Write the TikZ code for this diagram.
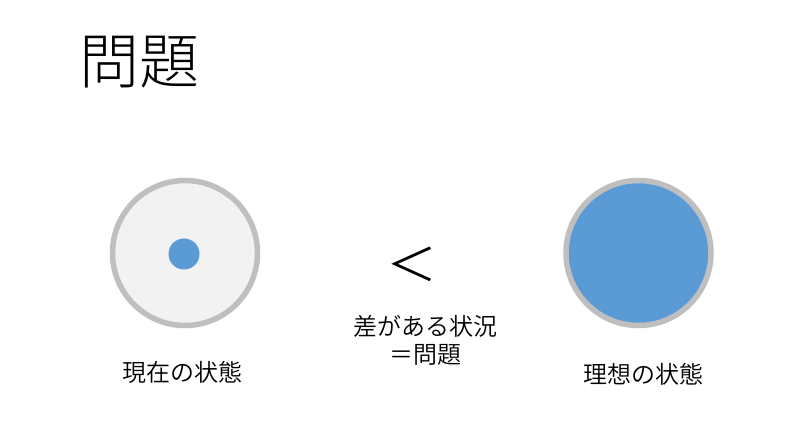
\documentclass[tikz,border=0pt]{standalone}
\usepackage{fontspec}
\newfontfamily\jp{Noto Sans CJK JP DemiLight}
\newfontfamily\jplight{Noto Sans CJK JP Light}
\definecolor{accent}{HTML}{5B9BD5}
\definecolor{ringgray}{HTML}{BFBFBF}
\definecolor{lightfill}{HTML}{F2F2F2}
\begin{document}
\begin{tikzpicture}[x=1bp,y=-1bp,
  lbl/.style={font=\jp\fontsize{24bp}{28bp}\selectfont, inner sep=0pt, text=black, align=center},
  ring/.style={circle, draw=ringgray, line width=5.5bp, minimum size=145bp, inner sep=0pt},
]
\fill[white] (0,0) rectangle (800,438);
\useasboundingbox (0,0) rectangle (800,438);
\node[font=\jplight\fontsize{60bp}{66bp}\selectfont, inner sep=0pt, anchor=west] (title) at (79,62) {問題};
\node[ring, fill=lightfill] (cur) at (185,253) {};
\node[circle, fill=accent, minimum size=31bp, inner sep=0pt] (dot) at (184,254) {};
\node[ring, fill=accent] (ideal) at (638.5,253) {};
\node[font=\jp\fontsize{51bp}{56bp}\selectfont, inner sep=0pt, yscale=-0.88, transform shape] (lt) at (412,264) {＜};
\node[lbl] (curl) at (182.5,372) {現在の状態};
\node[lbl] (ideall) at (643,374.5) {理想の状態};
\node[lbl] (diff) at (425,340) {差がある状況\\＝問題};
\end{tikzpicture}
\end{document}
